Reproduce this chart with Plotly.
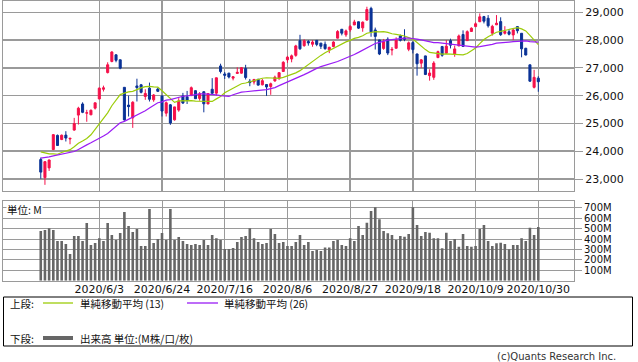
import plotly.graph_objects as go
import pandas as pd

# ---------------- data ----------------
dates = ["2020-05-13","2020-05-14","2020-05-15","2020-05-18","2020-05-19","2020-05-20","2020-05-21","2020-05-22","2020-05-26","2020-05-27",
         "2020-05-28","2020-05-29","2020-06-01","2020-06-02","2020-06-03","2020-06-04","2020-06-05","2020-06-08","2020-06-09","2020-06-10",
         "2020-06-11","2020-06-12","2020-06-15","2020-06-16","2020-06-17","2020-06-18","2020-06-19","2020-06-22","2020-06-23","2020-06-24",
         "2020-06-25","2020-06-26","2020-06-29","2020-06-30","2020-07-01","2020-07-02","2020-07-06","2020-07-07","2020-07-08","2020-07-09",
         "2020-07-10","2020-07-13","2020-07-14","2020-07-15","2020-07-16","2020-07-17","2020-07-20","2020-07-21","2020-07-22","2020-07-23",
         "2020-07-24","2020-07-27","2020-07-28","2020-07-29","2020-07-30","2020-07-31","2020-08-03","2020-08-04","2020-08-05","2020-08-06",
         "2020-08-07","2020-08-10","2020-08-11","2020-08-12","2020-08-13","2020-08-14","2020-08-17","2020-08-18","2020-08-19","2020-08-20",
         "2020-08-21","2020-08-24","2020-08-25","2020-08-26","2020-08-27","2020-08-28","2020-08-31","2020-09-01","2020-09-02","2020-09-03",
         "2020-09-04","2020-09-08","2020-09-09","2020-09-10","2020-09-11","2020-09-14","2020-09-15","2020-09-16","2020-09-17","2020-09-18",
         "2020-09-21","2020-09-22","2020-09-23","2020-09-24","2020-09-25","2020-09-28","2020-09-29","2020-09-30","2020-10-01","2020-10-02",
         "2020-10-05","2020-10-06","2020-10-07","2020-10-08","2020-10-09","2020-10-12","2020-10-13","2020-10-14","2020-10-15","2020-10-16",
         "2020-10-19","2020-10-20","2020-10-21","2020-10-22","2020-10-23","2020-10-26","2020-10-27","2020-10-28","2020-10-29","2020-10-30"]

opens = [23700,23050,23400,24060,24570,24420,24580,24440,24760,25300,
         25700,25370,25310,25550,25880,26230,26830,27230,27470,27290,
         26300,25660,25200,26350,26390,25970,26270,25850,26240,25990,
         25370,25670,25130,25480,25990,25960,26000,26180,25900,26140,
         25700,26230,26090,27070,26780,26810,26630,26800,26810,26980,
         26520,26490,26590,26390,26400,26330,26530,26620,26870,27290,
         27320,27450,27980,27800,27950,27850,27990,27890,27850,27650,
         27770,28070,28390,28190,28370,28545,28660,28440,28720,29140,
         28365,28005,27700,28030,27640,27706,28150,28080,27670,27910,
         27500,27170,27430,26720,26660,27370,27766,27530,27980,27500,
         27790,28200,27980,28310,28485,28660,28845,28785,28250,28550,
         28665,28245,28300,28185,28485,28245,27706,27110,26300,26630]

highs = [23770,23630,23700,24620,24600,24600,24720,24470,25200,25600,
         25760,25490,25500,25750,26300,26360,27200,27600,27480,27300,
         26300,26000,25800,26610,26420,26230,26470,26060,26290,26000,
         25790,25700,25600,25910,26100,26170,26330,26190,26130,26160,
         26090,26630,26650,27150,26850,26820,26700,27020,27030,27110,
         26600,26600,26600,26600,26420,26470,26720,26840,27240,27430,
         27480,27830,28190,28030,28000,28000,28000,27900,27950,27760,
         27960,28360,28400,28380,28540,28730,28670,28670,29200,29200,
         28450,28010,28040,28100,27750,28100,28200,28390,27950,27950,
         27510,27320,27440,26950,27240,27620,27790,28000,28050,27800,
         28200,28350,28350,28460,28640,28960,28870,28900,28550,28900,
         28820,28500,28400,28400,28500,28250,27720,27110,26930,26700]

lows = [23010,22790,23290,24040,24190,24400,24350,24250,24740,24960,
        25370,25060,25300,25500,25880,26150,26800,27200,27200,26950,
        25100,25250,24840,25790,26080,25850,25790,25780,26130,25250,
        25250,24950,25100,25420,25700,25700,25990,25880,25820,25400,
        25700,26050,26000,26800,26600,26620,26550,26780,26790,26580,
        26340,26400,26360,26370,25990,26030,26500,26560,26860,27180,
        27200,27400,27650,27760,27800,27760,27780,27680,27650,27530,
        27740,28060,28170,28120,28300,28540,28400,28300,28700,28120,
        27660,27460,27650,27460,27450,27700,27950,27960,27600,27520,
        26720,27000,26740,26540,26570,27350,27400,27500,27700,27400,
        27780,27750,27970,28300,28480,28650,28600,28450,28160,28540,
        28150,28200,28170,28000,28240,27380,27450,26500,26260,26140]

closes = [23248,23625,23685,24597,24207,24576,24474,24465,24995,25548,
          25400,25383,25475,25742,26269,26281,27110,27572,27272,26990,
          25128,25605,25763,26290,26120,26080,25871,26025,26156,25445,
          25745,25016,25595,25813,25734,25827,26287,25890,26067,25706,
          26075,26086,26643,26870,26734,26672,26680,26840,27005,26652,
          26469,26584,26379,26539,26313,26428,26664,26828,27201,27386,
          27433,27791,27686,27976,27896,27931,27844,27778,27692,27739,
          27930,28308,28248,28331,28492,28653,28430,28645,29100,28292,
          28133,27500,27940,27534,27665,27993,27995,28032,27901,27657,
          27147,27288,26763,26815,27174,27584,27452,27782,27817,27683,
          28149,27772,28303,28426,28587,28838,28680,28515,28494,28607,
          28195,28309,28211,28364,28336,27685,27463,26520,26659,26502]

# volume in millions
volumes = [478,487,504,487,382,382,353,257,430,430,
           382,555,343,362,407,382,555,439,391,459,
           661,526,468,497,334,334,689,362,401,459,
           391,689,391,420,382,353,343,353,343,391,
           343,439,407,391,305,305,314,372,420,430,
           504,407,372,353,362,497,449,362,372,334,
           334,372,439,343,372,286,295,286,318,318,
           382,391,343,334,407,382,526,439,558,670,
           705,590,478,455,439,391,430,423,449,705,
           536,430,468,462,407,407,311,462,382,401,
           327,449,334,327,334,497,536,382,334,359,
           366,353,302,343,343,407,382,510,439,516]

# closes of the 25 sessions before the first drawn day (warm-up for the moving averages)
prior_closes = [22654,23434,23719,23390,23950,23504,23538,24242,23650,23018,
                23475,23515,23775,24134,24102,24634,24346,23724,23750,23883,
                23665,23876,24331,24222,23764]

tick_dates = ["2020-06-03","2020-06-24","2020-07-16","2020-08-06","2020-08-27","2020-09-18","2020-10-09","2020-10-30"]
tick_labels = ["2020/6/3","2020/6/24","2020/7/16","2020/8/6","2020/8/27","2020/9/18","2020/10/9","2020/10/30"]
price_ticks = [23000,24000,25000,26000,27000,28000,29000]
price_tick_labels = ["23,000","24,000","25,000","26,000","27,000","28,000","29,000"]
vol_ticks = [100,200,300,400,500,600,700]
vol_tick_labels = ["100M","200M","300M","400M","500M","600M","700M"]
ma_short, ma_long = 13, 26

# ---------------- geometry ----------------
W, H = 638, 362
def px(x):
    return x / W
def py(y):
    return 1 - y / H

RED = "#f5104a"
BLUE = "#0a3296"
GREEN = "#9ccc0a"
PURPLE = "#9a1cf5"
GRID = "#9a9a9a"
VOLC = "#666666"
NUM_FONT = "DejaVu Sans"
JP_FONT = "Noto Sans CJK JP"

xs = list(range(len(dates)))
tick_pos = [dates.index(d) for d in tick_dates]
day_px = (538.3 - 99.3) / (tick_pos[-1] - tick_pos[0])
x_lo = tick_pos[0] - (99.3 - 3) / day_px
x_hi = tick_pos[0] + (574 - 99.3) / day_px

all_closes = pd.Series(prior_closes + closes, dtype=float)
ma13 = all_closes.rolling(ma_short).mean().iloc[len(prior_closes):].tolist()
ma26 = all_closes.rolling(ma_long).mean().iloc[len(prior_closes):].tolist()

fig = go.Figure()
fig.add_trace(go.Candlestick(
    x=xs, open=opens, high=highs, low=lows, close=closes,
    increasing=dict(line=dict(color=RED, width=1), fillcolor=RED),
    decreasing=dict(line=dict(color=BLUE, width=1), fillcolor=BLUE),
    whiskerwidth=0, xaxis="x", yaxis="y", hoverinfo="skip", showlegend=False))
fig.add_trace(go.Scatter(x=xs, y=ma13, mode="lines", line=dict(color=GREEN, width=1.2),
                         xaxis="x", yaxis="y", hoverinfo="skip", showlegend=False))
fig.add_trace(go.Scatter(x=xs, y=ma26, mode="lines", line=dict(color=PURPLE, width=1.2),
                         xaxis="x", yaxis="y", hoverinfo="skip", showlegend=False))
fig.add_trace(go.Bar(x=xs, y=volumes, marker=dict(color=VOLC, line=dict(width=0)), width=0.62,
                     xaxis="x2", yaxis="y2", hoverinfo="skip", showlegend=False))

main_dom_y = [py(190.5), py(0.5)]
vol_dom_y = [py(280.7), py(200.5)]
x_dom = [px(3), px(574)]

common_x = dict(domain=x_dom, range=[x_lo, x_hi], tickmode="array", tickvals=tick_pos,
                showgrid=True, gridcolor=GRID, zeroline=False, showline=True,
                linecolor=GRID, linewidth=1, mirror=True, fixedrange=True)

fig.update_layout(
    width=W, height=H, margin=dict(l=0, r=0, t=0, b=0),
    paper_bgcolor="white", plot_bgcolor="white", showlegend=False,
    xaxis=dict(**common_x, anchor="y", showticklabels=False, gridwidth=1.5,
               rangeslider=dict(visible=False)),
    yaxis=dict(domain=main_dom_y, range=[22586, 29425], side="right", anchor="x",
               tickmode="array", tickvals=price_ticks, ticktext=price_tick_labels,
               ticks="outside", ticklen=8, tickcolor=GRID, showgrid=True, gridcolor=GRID,
               gridwidth=1.5, zeroline=False, showline=True, linecolor=GRID, mirror=True,
               tickfont=dict(family=NUM_FONT, size=11, color="#111111"), fixedrange=True),
    xaxis2=dict(**common_x, anchor="y2", ticktext=tick_labels, showticklabels=True,
                ticks="", gridwidth=1, ticklabelstandoff=-2,
                tickfont=dict(family=NUM_FONT, size=11, color="#111111")),
    yaxis2=dict(domain=vol_dom_y, range=[0, 771], side="right", anchor="x2",
                tickmode="array", tickvals=vol_ticks, ticktext=vol_tick_labels,
                ticks="outside", ticklen=7, tickcolor=GRID, showgrid=True, gridcolor=GRID,
                gridwidth=1, zeroline=False, showline=True, linecolor=GRID, mirror=True,
                tickfont=dict(family=NUM_FONT, size=10, color="#111111"), fixedrange=True),
    boxgap=0.3,
)

shapes = [
    dict(type="rect", xref="paper", yref="paper", x0=px(3.5), x1=px(632.5), y0=py(346), y1=py(297),
         line=dict(color="black", width=1), fillcolor="rgba(0,0,0,0)"),
    dict(type="line", xref="paper", yref="paper", x0=px(43), x1=px(73), y0=py(303), y1=py(303),
         line=dict(color=GREEN, width=1.3)),
    dict(type="line", xref="paper", yref="paper", x0=px(187), x1=px(218), y0=py(303), y1=py(303),
         line=dict(color=PURPLE, width=1.3)),
    dict(type="line", xref="paper", yref="paper", x0=px(43), x1=px(73), y0=py(338), y1=py(338),
         line=dict(color=VOLC, width=4)),
]
fig.update_layout(shapes=shapes)

def txt(x, y, s, anchor="left", size=10.5, color="#111111", family=JP_FONT, bg=None):
    d = dict(xref="paper", yref="paper", x=px(x), y=py(y), text=s, showarrow=False,
             xanchor=anchor, yanchor="middle", font=dict(family=family, size=size, color=color))
    if bg:
        d["bgcolor"] = bg
        d["borderpad"] = 0
    return d

annotations = [
    txt(8, 303, "上段:"),
    txt(78, 303, "単純移動平均 (13)"),
    txt(222, 303, "単純移動平均 (26)"),
    txt(8, 338, "下段:"),
    txt(78, 338, "出来高 単位:(M株/口/枚)"),
    txt(618, 356, "(c)Quants Research Inc.", anchor="right", size=10, color="#333333", family=NUM_FONT),
    txt(6, 209, "単位: M", bg="white"),
]
fig.update_layout(annotations=annotations)

fig.write_html("out.html",
               config={"displayModeBar": False, "staticPlot": True},
               post_script="document.body.style.margin='0';document.body.style.overflow='hidden';")
